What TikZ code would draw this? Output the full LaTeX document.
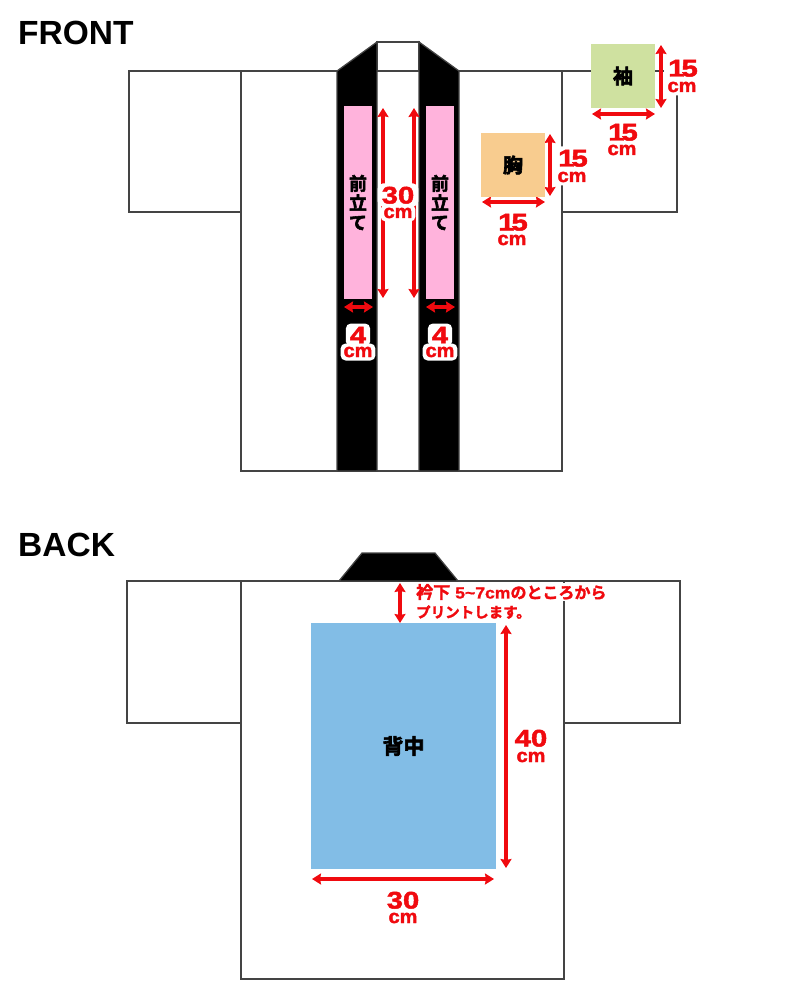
\documentclass[tikz,border=0pt]{standalone}
\usepackage{fontspec}
\usetikzlibrary{arrows.meta}
\setmainfont{Liberation Sans}
\newfontfamily\numfont[FakeStretch=1.22,FakeBold=2]{Liberation Sans Bold}
\newfontfamily\cmfont[FakeStretch=1.05,FakeBold=2]{Liberation Sans Bold}
\newfontfamily\notelatin[FakeStretch=1.1,FakeBold=1]{Liberation Sans Bold}
\newfontfamily\cjkfont[FakeBold=3]{Noto Sans CJK JP Bold}
\newfontfamily\cjknote[FakeBold=2]{Noto Sans CJK JP Bold}
\definecolor{garment}{HTML}{444444}
\definecolor{dimred}{HTML}{F00A0F}
\definecolor{pinkarea}{RGB}{255,179,220}
\definecolor{greenarea}{RGB}{207,225,160}
\definecolor{orangearea}{RGB}{248,204,143}
\definecolor{bluearea}{RGB}{130,189,230}
\tikzset{
 outline/.style={draw=garment,line width=1.25pt,fill=white},
 band/.style={draw=garment,line width=1.25pt,fill=black},
 dimline/.style={draw=dimred,line width=3.2pt,{Stealth[length=9pt,width=11pt,inset=1pt]}-{Stealth[length=9pt,width=11pt,inset=1pt]}},
 patch/.style={inner sep=0pt,outer sep=0pt,text=black,align=center,font=\cjkfont\fontsize{20}{20}\selectfont},
 numlabel/.style={inner xsep=4pt,inner ysep=3pt,text=dimred,fill=white,rounded corners=5pt,text height=17pt,text depth=0pt,font=\numfont\fontsize{24}{24}\selectfont},
 cmlabel/.style={inner xsep=3pt,inner ysep=3.5pt,text=dimred,fill=white,rounded corners=5pt,text height=10pt,text depth=0pt,font=\cmfont\fontsize{19}{19}\selectfont},
 heading/.style={inner sep=0pt,anchor=west,font=\fontsize{33.5}{33.5}\selectfont\bfseries},
 note/.style={inner xsep=0pt,inner ysep=1pt,anchor=west,text=dimred,fill=white},
}
\begin{document}
\begin{tikzpicture}[x=1pt,y=-1pt]
\useasboundingbox (0,0) rectangle (805,1000);
% FRONT garment
\draw[outline] (241,71) -- (129,71) -- (129,212) -- (241,212);
\draw[outline] (562,71) -- (677,71) -- (677,212) -- (562,212);
\draw[outline] (241,71) rectangle (562,471);
\draw[outline] (377,42) rectangle (419,71);
\draw[band] (337,471) -- (337,71) -- (377,42) -- (377,471) -- cycle;
\draw[band] (459,471) -- (459,71) -- (419,42) -- (419,471) -- cycle;
% BACK garment
\draw[outline] (241,581) -- (127,581) -- (127,723) -- (241,723);
\draw[outline] (564,581) -- (680,581) -- (680,723) -- (564,723);
\draw[outline] (241,581) rectangle (564,979);
\draw[band] (339,581) -- (362,553) -- (435,553) -- (458,581) -- cycle;
% Headings
\node[heading] (front) at (18,33) {FRONT};
\node[heading] (back) at (18,545) {BACK};
% Dimension coordinates
\coordinate (a1t) at (383,108); \coordinate (a1b) at (383,298);
\coordinate (a2t) at (414,108); \coordinate (a2b) at (414,298);
\coordinate (w1l) at (344,307); \coordinate (w1r) at (373,307);
\coordinate (w2l) at (426,307); \coordinate (w2r) at (455,307);
\coordinate (sv1) at (661,45);  \coordinate (sv2) at (661,108);
\coordinate (sh1) at (592,114); \coordinate (sh2) at (655,114);
\coordinate (mv1) at (550,134); \coordinate (mv2) at (550,196);
\coordinate (mh1) at (482,202); \coordinate (mh2) at (545,202);
\coordinate (bv1) at (506,625); \coordinate (bv2) at (506,868);
\coordinate (bh1) at (312,879); \coordinate (bh2) at (494,879);
\coordinate (nv1) at (400,583); \coordinate (nv2) at (400,623);
\draw[dimline] (a1t) -- (a1b);
\draw[dimline] (a2t) -- (a2b);
\draw[dimline] (w1l) -- (w1r);
\draw[dimline] (w2l) -- (w2r);
\draw[dimline] (sv1) -- (sv2);
\draw[dimline] (sh1) -- (sh2);
\draw[dimline] (mv1) -- (mv2);
\draw[dimline] (mh1) -- (mh2);
\draw[dimline] (bv1) -- (bv2);
\draw[dimline] (bh1) -- (bh2);
\draw[dimline] (nv1) -- (nv2);
% Dimension labels
\node[numlabel] (l30a) at (398,195) {30};
\node[cmlabel] (l30b) at (398,213) {cm};
\node[numlabel] (l4a) at (358,335) {4};
\node[cmlabel] (l4b) at (358,352) {cm};
\node[numlabel] (l4c) at (440,335) {4};
\node[cmlabel] (l4d) at (440,352) {cm};
\node[numlabel] (s1a) at (683,68) {1\kern-3pt 5};
\node[cmlabel] (s1b) at (682,87) {cm};
\node[numlabel] (s2a) at (623,132) {1\kern-3pt 5};
\node[cmlabel] (s2b) at (622,150) {cm};
\node[numlabel] (m1a) at (573,158) {1\kern-3pt 5};
\node[cmlabel] (m1b) at (572,177) {cm};
\node[numlabel] (m2a) at (513,222) {1\kern-3pt 5};
\node[cmlabel] (m2b) at (512,240) {cm};
\node[numlabel] (b1a) at (531,738) {40};
\node[cmlabel] (b1b) at (531,757) {cm};
\node[numlabel] (b2a) at (403,900) {30};
\node[cmlabel] (b2b) at (403,918) {cm};
\node[note] (n1) at (416,592) {\cjknote\fontsize{16}{16}\selectfont {\fontsize{17}{17}\selectfont 衿下}\hspace{5pt}{\notelatin\fontsize{16}{16}\selectfont 5\char"7E 7cm}のところから};
\node[note] (n2) at (416,612) {\cjknote\fontsize{14.5}{14.5}\selectfont プリントします。};
% Print areas
\node[patch,fill=pinkarea,minimum width=28pt,minimum height=193pt,font=\cjkfont\fontsize{18}{19.5}\selectfont] (mae1) at (358,202.5) {前\\立\\て};
\node[patch,fill=pinkarea,minimum width=28pt,minimum height=193pt,font=\cjkfont\fontsize{18}{19.5}\selectfont] (mae2) at (440,202.5) {前\\立\\て};
\node[patch,fill=greenarea,minimum width=64pt,minimum height=64pt] (sode) at (623,76) {袖};
\node[patch,fill=orangearea,minimum width=64pt,minimum height=64pt] (mune) at (513,165) {胸};
\node[patch,fill=bluearea,minimum width=185pt,minimum height=246pt,font=\cjkfont\fontsize{21}{21}\selectfont] (senaka) at (403.5,746) {背中};
\end{tikzpicture}
\end{document}
